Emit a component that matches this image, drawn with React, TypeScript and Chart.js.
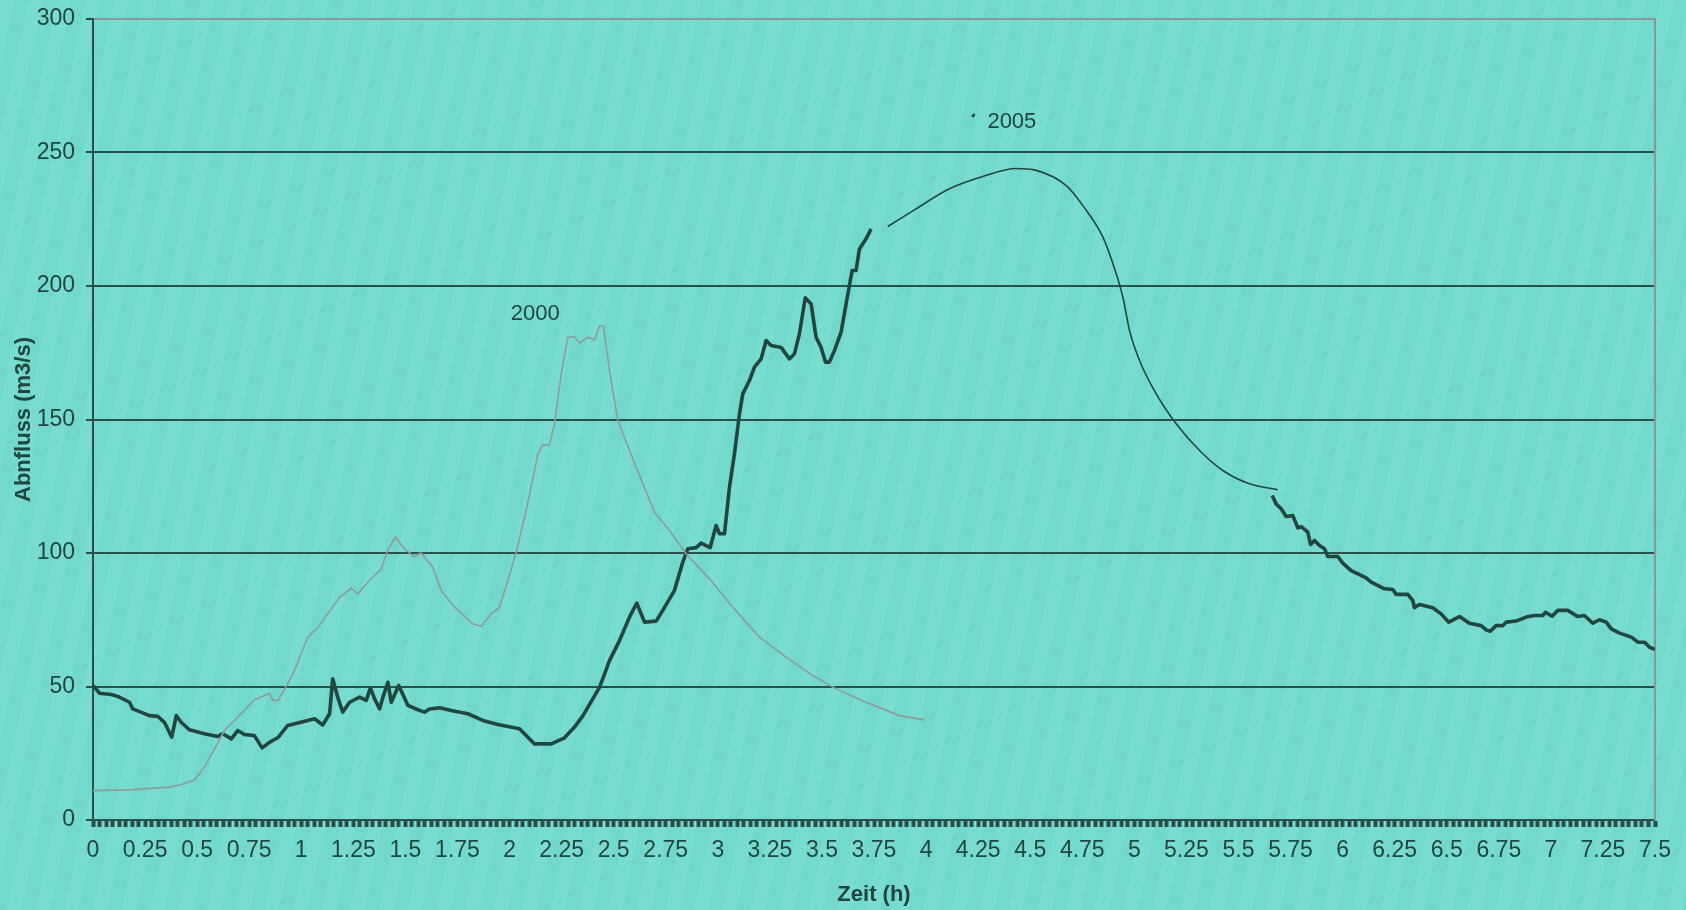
import React, { useEffect, useRef } from "react";
import { Chart, registerables } from "chart.js";

Chart.register(...registerables);

// ---- data ----
const hours2000 = [0, 0.175, 0.367, 0.42, 0.487, 0.535, 0.575, 0.631, 0.695, 0.775, 0.848, 0.863, 0.888, 0.935, 0.967, 1.031, 1.08, 1.127, 1.184, 1.24, 1.271, 1.328, 1.384, 1.415, 1.451, 1.496, 1.54, 1.576, 1.631, 1.672, 1.736, 1.824, 1.864, 1.912, 1.952, 1.992, 2.036, 2.08, 2.136, 2.16, 2.19, 2.216, 2.248, 2.28, 2.312, 2.336, 2.376, 2.408, 2.432, 2.451, 2.48, 2.52, 2.576, 2.64, 2.696, 2.768, 2.848, 2.96, 3.072, 3.2, 3.328, 3.456, 3.568, 3.712, 3.872, 3.99];
const flow2000 = [11.0, 11.3, 12.3, 13.2, 15, 19.8, 25.4, 33.5, 38.5, 45, 47.5, 44.8, 44.8, 51, 56, 68.5, 72.2, 77.2, 83.4, 86.8, 84.7, 89.7, 94, 101, 105.9, 101.6, 98.7, 100, 94.7, 86, 79.7, 73.5, 72.5, 77.2, 79.7, 89.7, 101.5, 116, 137, 140.6, 140.3, 148.4, 167, 180.8, 181, 178.6, 180.8, 179.8, 185, 185, 168.4, 149.6, 138.4, 126, 115.3, 108.4, 99.7, 90.3, 79.7, 68.5, 61, 54.1, 49.1, 44.1, 39.1, 37.5];

const hours2005Rise = [0, 0.031, 0.087, 0.119, 0.175, 0.191, 0.271, 0.311, 0.343, 0.378, 0.4, 0.423, 0.463, 0.535, 0.599, 0.623, 0.664, 0.695, 0.727, 0.775, 0.812, 0.847, 0.887, 0.935, 0.983, 1.064, 1.103, 1.136, 1.151, 1.175, 1.199, 1.232, 1.28, 1.312, 1.332, 1.352, 1.376, 1.392, 1.416, 1.432, 1.468, 1.512, 1.56, 1.592, 1.616, 1.664, 1.72, 1.8, 1.872, 1.944, 2.048, 2.12, 2.2, 2.264, 2.312, 2.352, 2.432, 2.48, 2.528, 2.576, 2.611, 2.648, 2.704, 2.736, 2.792, 2.832, 2.856, 2.896, 2.92, 2.963, 2.992, 3.008, 3.032, 3.056, 3.08, 3.104, 3.12, 3.152, 3.176, 3.208, 3.232, 3.256, 3.304, 3.344, 3.368, 3.392, 3.42, 3.448, 3.472, 3.496, 3.517, 3.536, 3.56, 3.592, 3.616, 3.645, 3.664, 3.68, 3.712, 3.736];
const flow2005Rise = [50.4, 47.5, 47, 46.3, 44.1, 41.6, 39.1, 38.8, 36.6, 31, 39.1, 36.6, 33.8, 32.3, 31.3, 32.3, 30.4, 33.5, 32, 31.6, 27, 29.1, 30.8, 35.4, 36.3, 37.9, 35.6, 39.8, 52.9, 46, 40.4, 44.1, 46, 44.8, 49.5, 45.4, 41.6, 46, 51.6, 44.1, 50.4, 42.9, 41.3, 40.4, 41.6, 42, 41, 39.8, 37.3, 35.8, 34.2, 28.5, 28.5, 30.8, 34.8, 39, 49.7, 59.7, 67.2, 76, 81.2, 74.1, 74.5, 78.5, 86, 96.6, 101.6, 102, 103.7, 102, 110.3, 107.2, 107.2, 124.6, 137.2, 152.1, 159.6, 164.6, 169.6, 172.7, 179.6, 177.7, 177, 172.7, 174.6, 182.1, 195.6, 193.3, 180.8, 177, 171.5, 171.5, 175.8, 182.7, 193.3, 205.8, 205.8, 213.9, 217.7, 221.4];

const hours2005Peak = [3.816, 3.952, 4.112, 4.272, 4.433, 4.529, 4.673, 4.753, 4.849, 4.913, 4.945, 4.977, 5.025, 5.105, 5.201, 5.313, 5.425, 5.553, 5.689];
const flow2005Peak = [222.3, 228.9, 236.4, 241, 244, 243.3, 237.6, 230.1, 218.3, 204.6, 195.8, 183.3, 172.1, 159.6, 148.4, 138.4, 130.9, 125.9, 123.7];

const hours2005Fall = [5.662, 5.681, 5.705, 5.729, 5.761, 5.785, 5.801, 5.833, 5.846, 5.865, 5.889, 5.913, 5.929, 5.977, 6.001, 6.041, 6.081, 6.113, 6.137, 6.201, 6.241, 6.257, 6.313, 6.337, 6.345, 6.369, 6.433, 6.473, 6.51, 6.561, 6.609, 6.665, 6.689, 6.709, 6.737, 6.769, 6.785, 6.833, 6.882, 6.921, 6.961, 6.974, 7.006, 7.033, 7.081, 7.129, 7.161, 7.201, 7.233, 7.266, 7.29, 7.33, 7.386, 7.418, 7.45, 7.474, 7.5];
const flow2005Fall = [121.5, 118.4, 116.6, 113.7, 114, 109.4, 109.9, 107.8, 103.2, 104.7, 102.8, 101.6, 98.7, 98.7, 96.2, 93.4, 91.9, 90.7, 89.1, 86.6, 86.3, 84.5, 84.5, 82.2, 79.5, 80.7, 79.5, 77.2, 74.1, 76.2, 73.7, 72.8, 71.2, 70.7, 72.8, 72.8, 74.1, 74.5, 76, 76.6, 76.6, 77.8, 76.3, 78.5, 78.5, 76.2, 76.6, 73.7, 75, 74.1, 71.6, 70, 68.5, 66.6, 66.6, 64.7, 63.9];

const hoursMark = [4.222, 4.232];
const flowMark = [263.3, 264.4];

const xTickLabels = ["0", "0.25", "0.5", "0.75", "1", "1.25", "1.5", "1.75", "2", "2.25", "2.5", "2.75", "3", "3.25", "3.5", "3.75", "4", "4.25", "4.5", "4.75", "5", "5.25", "5.5", "5.75", "6", "6.25", "6.5", "6.75", "7", "7.25", "7.5"];
const yTickValues = [0, 50, 100, 150, 200, 250, 300];

const noteTexts = ["2000", "2005"];
const noteHours = [2.123, 4.412];
const noteFlows = [189.5, 261.5];

const xTitle = "Zeit (h)";
const yTitle = "Abnfluss (m3/s)";

// ---- styles ----
const DARK = "#21463f";
const GRID = "#29504a";
const GRAY_LINE = "#8e9c99";
const BORDER_GRAY = "#8d9694";
const FONT = "'Liberation Sans', Arial, sans-serif";

const zip = (xs: number[], ys: number[]) => xs.map((x, i) => ({ x, y: ys[i] }));

const notesPlugin = {
  id: "seriesNotes",
  afterDatasetsDraw(chart: any) {
    const { ctx, scales } = chart;
    const xs = scales.x;
    const ys = scales.y;
    ctx.save();
    ctx.font = `22px ${FONT}`;
    ctx.fillStyle = DARK;
    ctx.textAlign = "center";
    ctx.textBaseline = "middle";
    noteTexts.forEach((t, i) => {
      ctx.fillText(t, xs.getPixelForValue(noteHours[i]), ys.getPixelForValue(noteFlows[i]));
    });
    ctx.restore();
  },
};

export default function App() {
  const ref = useRef<HTMLCanvasElement | null>(null);

  useEffect(() => {
    if (!ref.current) return;
    const chart = new Chart(ref.current, {
      type: "line",
      data: {
        datasets: [
          {
            label: "2000",
            data: zip(hours2000, flow2000),
            borderColor: GRAY_LINE,
            borderWidth: 1.6,
            pointRadius: 0,
            tension: 0,
          },
          {
            label: "2005",
            data: zip(hours2005Rise, flow2005Rise),
            borderColor: DARK,
            borderWidth: 3.6,
            pointRadius: 0,
            tension: 0,
            borderJoinStyle: "round",
          },
          {
            label: "2005 (Spitze)",
            data: zip(hours2005Peak, flow2005Peak),
            borderColor: DARK,
            borderWidth: 1.6,
            pointRadius: 0,
            cubicInterpolationMode: "monotone",
          },
          {
            label: "2005 (Abfall)",
            data: zip(hours2005Fall, flow2005Fall),
            borderColor: DARK,
            borderWidth: 3.6,
            pointRadius: 0,
            tension: 0,
            borderJoinStyle: "round",
          },
          {
            label: "mark",
            data: zip(hoursMark, flowMark),
            borderColor: DARK,
            borderWidth: 2.5,
            pointRadius: 0,
          },
        ],
      },
      options: {
        animation: false,
        responsive: false,
        layout: { padding: { left: 0, right: 31, top: 19, bottom: 0 } },
        plugins: {
          legend: { display: false },
          tooltip: { enabled: false },
        },
        scales: {
          x: {
            type: "linear",
            min: 0,
            max: 7.5,
            ticks: {
              stepSize: 1 / 32,
              autoSkip: false,
              maxRotation: 0,
              minRotation: 0,
              padding: 10,
              color: DARK,
              font: { family: FONT, size: 23 },
              callback: (_v: any, i: number) => (i % 8 === 0 ? xTickLabels[i / 8] : ""),
            },
            grid: {
              drawOnChartArea: false,
              tickLength: 7,
              tickWidth: 4,
              tickColor: GRID,
            },
            border: { color: GRID, width: 2 },
            title: {
              display: true,
              text: xTitle,
              color: DARK,
              font: { family: FONT, size: 22, weight: "bold" },
              padding: { top: 0, bottom: 2 },
            },
            afterFit: (s: any) => {
              s.height = 90;
            },
          },
          y: {
            type: "linear",
            min: 0,
            max: 300,
            afterBuildTicks: (s: any) => {
              s.ticks = yTickValues.map((v) => ({ value: v }));
            },
            ticks: {
              padding: 11,
              color: DARK,
              font: { family: FONT, size: 23 },
            },
            grid: {
              color: (c: any) => (c.tick && c.tick.value === 300 ? BORDER_GRAY : GRID),
              lineWidth: 2,
              tickLength: 7,
              tickColor: GRID,
            },
            border: { color: GRID, width: 2 },
            title: {
              display: true,
              text: yTitle,
              color: DARK,
              font: { family: FONT, size: 22, weight: "bold" },
              padding: { top: 11, bottom: 0 },
            },
            afterFit: (s: any) => {
              s.width = 93;
              s.paddingTop = 0;
              s.paddingBottom = 0;
            },
          },
          yRight: {
            type: "linear",
            position: "right",
            min: 0,
            max: 300,
            ticks: { display: false },
            grid: { display: false, drawTicks: false },
            border: { display: true, color: BORDER_GRAY, width: 2 },
            afterFit: (s: any) => {
              s.width = 0;
              s.paddingTop = 0;
              s.paddingBottom = 0;
            },
          },
        },
      },
      plugins: [notesPlugin],
    } as any);
    return () => chart.destroy();
  }, []);

  return (
    <div
      style={{
        position: "fixed",
        left: 0,
        top: 0,
        width: 1686,
        height: 910,
        backgroundColor: "#75dccf",
        backgroundImage:
          "repeating-linear-gradient(102deg, rgba(255,255,255,0.025) 0px, rgba(255,255,255,0.025) 14px, rgba(0,70,60,0.025) 14px, rgba(0,70,60,0.025) 28px)",
      }}
    >
      <canvas ref={ref} width={1686} height={910} style={{ display: "block", width: 1686, height: 910 }} />
    </div>
  );
}
